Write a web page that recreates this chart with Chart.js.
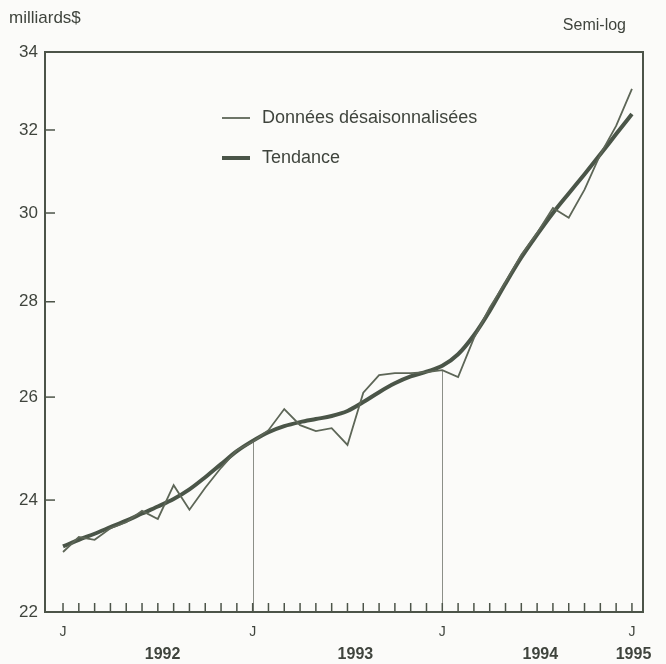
<!DOCTYPE html>
<html>
<head>
<meta charset="utf-8">
<script src="https://cdn.jsdelivr.net/npm/chart.js@4.4.0/dist/chart.umd.min.js"></script>
<style>
    html, body { margin: 0; padding: 0; background: #fbfbf9; }
    #wrap { position: relative; width: 666px; height: 664px; }
</style>
</head>
<body>
<div id="wrap"><canvas id="chart" width="666" height="664"></canvas></div>
<script>
// monthly values, Jan 1992 .. Jan 1995 (37 months), billions of $
const seasAdj = [23.05, 23.32, 23.27, 23.48, 23.59, 23.80, 23.65, 24.28, 23.82, 24.23, 24.61, 24.95,
                 25.11, 25.34, 25.76, 25.44, 25.32, 25.38, 25.05, 26.09, 26.45, 26.49, 26.49, 26.51,
                 26.55, 26.41, 27.22, 27.87, 28.43, 29.04, 29.54, 30.12, 29.89, 30.55, 31.40, 32.10,
                 33.04];
const trend = [23.15, 23.27, 23.38, 23.50, 23.62, 23.75, 23.88, 24.02, 24.20, 24.43, 24.68, 24.93,
               25.13, 25.30, 25.42, 25.50, 25.56, 25.62, 25.72, 25.90, 26.10, 26.28, 26.42, 26.52,
               26.64, 26.88, 27.28, 27.80, 28.40, 28.98, 29.50, 30.00, 30.46, 30.92, 31.40, 31.90,
               32.40];
const yTicks = [22, 24, 26, 28, 30, 32, 34];
const janTicks = [0, 12, 24, 36];
const yearLabels = ["1992", "1993", "1994", "1995"];
const yearPos = [6.3, 18.5, 30.2, 36.1];
const dividerMonths = [12, 24];
const seriesNames = ["Données désaisonnalisées", "Tendance"];

const INK = "#4c5449";
const TEXT = "#3f443d";
const FONT = "'Liberation Sans', Arial, sans-serif";

const points = (arr) => arr.map((v, i) => ({ x: i, y: v }));

const decorPlugin = {
    id: "decor",
    beforeDatasetsDraw(chart) {
        const { ctx, chartArea, scales } = chart;
        ctx.save();
        ctx.strokeStyle = "#8c8f88";
        ctx.lineWidth = 1;
        dividerMonths.forEach((m) => {
            const x = Math.round(scales.x.getPixelForValue(m)) + 0.5;
            ctx.beginPath();
            ctx.moveTo(x, chartArea.bottom);
            ctx.lineTo(x, scales.y.getPixelForValue(seasAdj[m]));
            ctx.stroke();
        });
        ctx.restore();
    },
    afterDraw(chart) {
        const { ctx, chartArea, scales } = chart;
        const { left, right, top, bottom } = chartArea;
        ctx.save();

        // frame
        ctx.strokeStyle = INK;
        ctx.lineWidth = 2;
        ctx.strokeRect(left, top, right - left, bottom - top);

        // inward ticks
        ctx.lineWidth = 1.5;
        yTicks.forEach((v) => {
            const y = scales.y.getPixelForValue(v);
            ctx.beginPath();
            ctx.moveTo(left, y);
            ctx.lineTo(left + 10, y);
            ctx.stroke();
        });
        seasAdj.forEach((_, i) => {
            const x = scales.x.getPixelForValue(i);
            ctx.beginPath();
            ctx.moveTo(x, bottom);
            ctx.lineTo(x, bottom - 9);
            ctx.stroke();
        });

        // years
        ctx.fillStyle = TEXT;
        ctx.font = "bold 16px " + FONT;
        ctx.textAlign = "center";
        ctx.textBaseline = "middle";
        yearLabels.forEach((t, i) => {
            ctx.fillText(t, scales.x.getPixelForValue(yearPos[i]), 655);
        });

        // headers
        ctx.font = "17px " + FONT;
        ctx.textAlign = "left";
        ctx.fillText("milliards$", 9, 18);
        ctx.font = "16px " + FONT;
        ctx.textAlign = "right";
        ctx.fillText("Semi-log", 626, 26);

        // legend
        ctx.font = "18px " + FONT;
        ctx.textAlign = "left";
        ctx.strokeStyle = "#5d6657";
        ctx.lineWidth = 1.8;
        ctx.beginPath();
        ctx.moveTo(222, 118);
        ctx.lineTo(250, 118);
        ctx.stroke();
        ctx.fillText(seriesNames[0], 262, 118);
        ctx.strokeStyle = "#4a5548";
        ctx.lineWidth = 4;
        ctx.beginPath();
        ctx.moveTo(222, 158);
        ctx.lineTo(250, 158);
        ctx.stroke();
        ctx.fillText(seriesNames[1], 262, 158);

        ctx.restore();
    }
};

new Chart(document.getElementById("chart"), {
    type: "line",
    data: {
        datasets: [
            {
                label: seriesNames[0],
                data: points(seasAdj),
                borderColor: "#5d6657",
                borderWidth: 1.8,
                pointRadius: 0,
                tension: 0,
                fill: false
            },
            {
                label: seriesNames[1],
                data: points(trend),
                borderColor: "#4a5548",
                borderWidth: 4,
                pointRadius: 0,
                cubicInterpolationMode: "monotone",
                fill: false
            }
        ]
    },
    options: {
        responsive: false,
        animation: false,
        devicePixelRatio: 1,
        layout: { padding: { top: 52, right: 23, left: 0, bottom: 0 } },
        plugins: {
            legend: { display: false },
            tooltip: { enabled: false }
        },
        scales: {
            x: {
                type: "linear",
                min: -1.14,
                max: 36.7,
                grid: { display: false, drawTicks: false },
                border: { display: false },
                afterBuildTicks: (scale) => {
                    scale.ticks = janTicks.map((v) => ({ value: v }));
                },
                afterFit: (scale) => { scale.height = 52; },
                ticks: {
                    callback: () => "J",
                    padding: 12,
                    maxRotation: 0,
                    autoSkip: false,
                    color: TEXT,
                    font: { family: FONT, size: 14 }
                }
            },
            y: {
                type: "logarithmic",
                min: 22,
                max: 34,
                grid: { display: false, drawTicks: false },
                border: { display: false },
                afterBuildTicks: (scale) => {
                    scale.ticks = yTicks.map((v) => ({ value: v }));
                },
                afterFit: (scale) => { scale.width = 45; },
                ticks: {
                    callback: (v) => String(v),
                    padding: 7,
                    autoSkip: false,
                    color: TEXT,
                    font: { family: FONT, size: 17 }
                }
            }
        }
    },
    plugins: [decorPlugin]
});
</script>
</body>
</html>
